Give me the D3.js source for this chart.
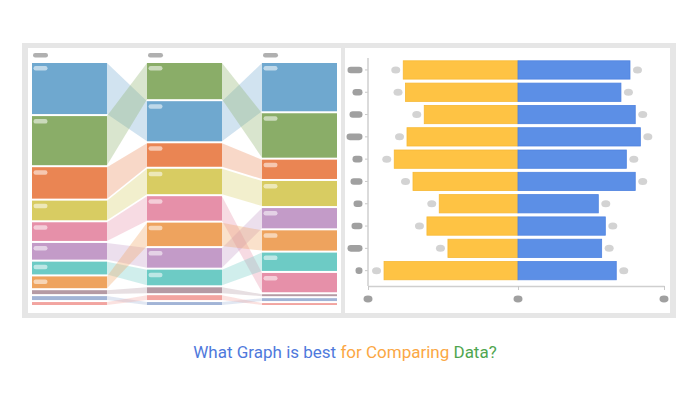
<!DOCTYPE html>
<html>
<head>
<meta charset="utf-8">
<script src="https://cdn.jsdelivr.net/npm/d3@7"></script>
<style>
  body { margin: 0; background: #fff; }
  svg { display: block; font-family: Roboto, "Open Sans", sans-serif; }
</style>
</head>
<body>
<svg width="698" height="400"></svg>
<script>
// --- left panel: ranked flows over three periods ---
let categories = ['blue', 'green', 'orange', 'yellow', 'pink', 'purple', 'teal', 'orange2', 'mauve', 'steel', 'salmon'];
let catColors = ['#6fa8cf', '#8aad68', '#ea8553', '#d8cc62', '#e690a9', '#c39bc8', '#6dcbc5', '#eea35e', '#b59aa4', '#a2b4d6', '#f2a4a0'];
let periods = ['P1', 'P2', 'P3'];
let period1 = [52, 50, 32, 20, 19, 17, 13, 12, 4, 4, 3];
let period2 = [41, 37, 24, 26, 25, 20, 16, 24, 6, 3, 5];
let period3 = [50, 46, 20, 26, 20, 21, 19, 21, 2, 3, 2];
let order1 = ['blue', 'green', 'orange', 'yellow', 'pink', 'purple', 'teal', 'orange2', 'mauve', 'steel', 'salmon'];
let order2 = ['green', 'blue', 'orange', 'yellow', 'pink', 'orange2', 'purple', 'teal', 'mauve', 'salmon', 'steel'];
let order3 = ['blue', 'green', 'orange', 'yellow', 'purple', 'orange2', 'teal', 'pink', 'mauve', 'steel', 'salmon'];

// --- right panel: diverging bars ---
let rows = ['r1', 'r2', 'r3', 'r4', 'r5', 'r6', 'r7', 'r8', 'r9', 'r10'];
let leftValues = [76.5, 75, 62.5, 74, 82.5, 70, 52.5, 60.7, 46.7, 89.3];
let rightValues = [76.7, 70.5, 80.3, 83.8, 74.2, 80.3, 55, 59.8, 57.3, 67.3];
let rowLabelWidths = [15, 10, 13, 16, 10, 12, 9, 11, 15, 7];
let xTicks = [-100, 0, 100];

let svg = d3.select('svg');

// frame
svg.append('rect').attr('x', 22).attr('y', 43).attr('width', 654).attr('height', 275).attr('fill', '#e6e6e6');
svg.append('rect').attr('x', 28).attr('y', 48).attr('width', 313).attr('height', 265).attr('fill', '#fff');
svg.append('rect').attr('x', 345).attr('y', 48).attr('width', 325).attr('height', 265).attr('fill', '#fff');

// ---------- flows ----------
let color = d3.scaleOrdinal().domain(categories).range(catColors);
let colX = d3.scaleBand().domain(periods).range([32, 337]).paddingInner(0.348).paddingOuter(0);

let flowTop = 63, flowBottom = 305, gap = 2;
let columnData = [period1, period2, period3];
let columnOrder = [order1, order2, order3];

// nodes[col][cat] = {x0,x1,y0,y1}
let nodes = columnData.map((vals, ci) => {
  let total = d3.sum(vals);
  let h = d3.scaleLinear().domain([0, total]).range([0, flowBottom - flowTop - gap * (categories.length - 1)]);
  let yy = flowTop;
  let out = {};
  columnOrder[ci].forEach(cat => {
    let v = vals[categories.indexOf(cat)];
    out[cat] = {cat: cat, x0: colX(periods[ci]), x1: colX(periods[ci]) + colX.bandwidth(), y0: yy, y1: yy + h(v)};
    yy += h(v) + gap;
  });
  return out;
});

let band = d3.area().x(d => d.x).y0(d => d.y0).y1(d => d.y1);

let links = svg.append('g');
for (let ci = 0; ci < periods.length - 1; ci++) {
  categories.forEach(cat => {
    let a = nodes[ci][cat], b = nodes[ci + 1][cat];
    links.append('path')
      .attr('d', band([{x: a.x1, y0: a.y0, y1: a.y1}, {x: b.x0, y0: b.y0, y1: b.y1}]))
      .attr('fill', color(cat))
      .attr('opacity', 0.32);
  });
}

let nodeG = svg.append('g');
nodes.forEach(col => {
  Object.values(col).forEach(n => {
    nodeG.append('rect')
      .attr('x', n.x0).attr('y', n.y0)
      .attr('width', n.x1 - n.x0).attr('height', n.y1 - n.y0)
      .attr('fill', color(n.cat));
    if (n.y1 - n.y0 > 9) {
      nodeG.append('rect')
        .attr('x', n.x0 + 1.5).attr('y', n.y0 + 3)
        .attr('width', 14).attr('height', 4.5).attr('rx', 2.2)
        .attr('fill', '#fff').attr('opacity', 0.55);
    }
  });
});

// column headers (placeholder pills)
svg.append('g').selectAll('rect')
  .data(periods).enter().append('rect')
  .attr('x', d => colX(d) + 1).attr('y', 53)
  .attr('width', 15).attr('height', 4.5).attr('rx', 2.2)
  .attr('fill', '#b0b0b0');

// ---------- diverging bars ----------
let x = d3.scaleLinear().domain([-100, 0, 100]).range([368, 518, 664]);
let y = d3.scaleBand().domain(rows).range([58.8, 281.8]).paddingInner(0.18).paddingOuter(0.09);
let axisY = 286;

svg.append('g').selectAll('rect')
  .data(leftValues).enter().append('rect')
  .attr('x', d => x(-d)).attr('y', (d, i) => y(rows[i]))
  .attr('width', d => x(0) - x(-d)).attr('height', y.bandwidth())
  .attr('fill', '#fec344').attr('stroke', '#f7b935').attr('stroke-width', 0.8);

svg.append('g').selectAll('rect')
  .data(rightValues).enter().append('rect')
  .attr('x', x(0)).attr('y', (d, i) => y(rows[i]))
  .attr('width', d => x(d) - x(0)).attr('height', y.bandwidth())
  .attr('fill', '#5c8fe6').attr('stroke', '#4f83e0').attr('stroke-width', 0.8);

// value pills
svg.append('g').selectAll('ellipse')
  .data(leftValues).enter().append('ellipse')
  .attr('cx', d => x(-d) - 7.5).attr('cy', (d, i) => y(rows[i]) + y.bandwidth() / 2)
  .attr('rx', 4.5).attr('ry', 3.5).attr('fill', '#d3d3d3');
svg.append('g').selectAll('ellipse')
  .data(rightValues).enter().append('ellipse')
  .attr('cx', d => x(d) + 7.5).attr('cy', (d, i) => y(rows[i]) + y.bandwidth() / 2)
  .attr('rx', 4.5).attr('ry', 3.5).attr('fill', '#d3d3d3');

// axes
let yAxis = svg.append('g')
  .attr('transform', `translate(${x(-100)},0)`)
  .call(d3.axisLeft(y).tickSize(3).tickSizeOuter(0).tickFormat(''));
yAxis.select('.domain').remove();
yAxis.selectAll('line').attr('stroke', '#c8c8c8');
svg.append('line')
  .attr('x1', x(-100)).attr('x2', x(-100)).attr('y1', 58).attr('y2', axisY)
  .attr('stroke', '#cfcfcf').attr('stroke-width', 1.5);

let xAxis = svg.append('g')
  .attr('transform', `translate(0,${axisY})`)
  .call(d3.axisBottom(x).tickValues(xTicks).tickSize(4).tickSizeOuter(0).tickFormat(''));
xAxis.select('.domain').attr('stroke', '#cfcfcf').attr('stroke-width', 1.5);
xAxis.selectAll('line').attr('stroke', '#c8c8c8');

// axis label pills
svg.append('g').selectAll('rect')
  .data(rows).enter().append('rect')
  .attr('x', (d, i) => 362.5 - rowLabelWidths[i]).attr('y', d => y(d) + y.bandwidth() / 2 - 3.3)
  .attr('width', (d, i) => rowLabelWidths[i]).attr('height', 6.6).attr('rx', 3.3)
  .attr('fill', '#a0a0a0');
svg.append('g').selectAll('ellipse')
  .data(xTicks).enter().append('ellipse')
  .attr('cx', d => x(d)).attr('cy', 299)
  .attr('rx', 4.5).attr('ry', 3.4).attr('fill', '#a0a0a0');

// ---------- title ----------
let title = svg.append('text')
  .attr('x', 345).attr('y', 358)
  .attr('text-anchor', 'middle')
  .attr('font-size', 17);
title.append('tspan').attr('fill', '#4f79dc').text('What Graph is best ');
title.append('tspan').attr('fill', '#fba744').text('for Comparing ');
title.append('tspan').attr('fill', '#4fa64f').text('Data?');
</script>
</body>
</html>
